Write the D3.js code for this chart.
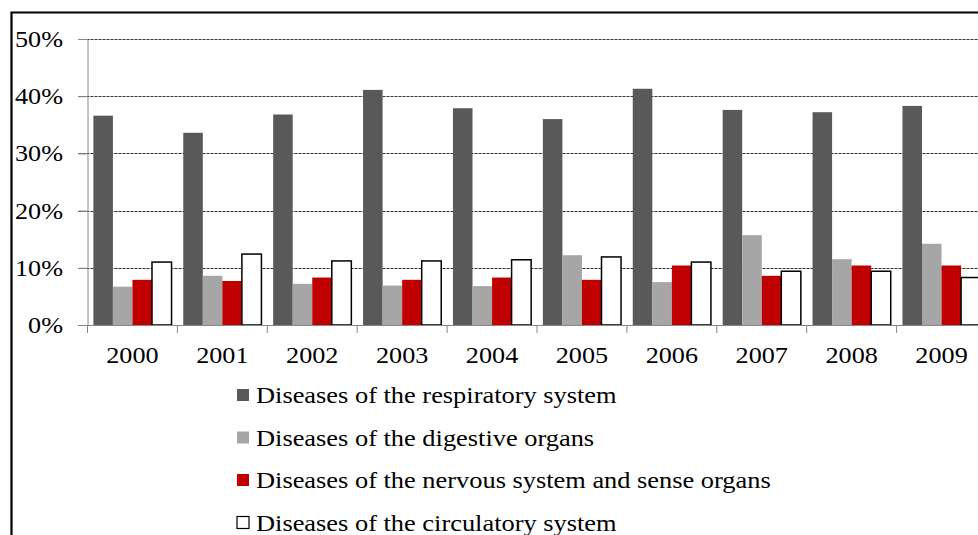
<!DOCTYPE html>
<html>
<head>
<meta charset="utf-8">
<script src="https://cdn.jsdelivr.net/npm/d3@7"></script>
<style>
  body { margin: 0; background: #fff; }
  #graph { width: 978px; height: 535px; overflow: hidden; }
  svg text { font-family: "Liberation Serif", "Times New Roman", serif; fill: #000; }
</style>
</head>
<body>
<div id="graph"></div>
<script>
// chart data
var years = ["2000","2001","2002","2003","2004","2005","2006","2007","2008","2009"];
var seriesNames = [
  "Diseases of the respiratory system",
  "Diseases of the digestive organs",
  "Diseases of the nervous system and sense organs",
  "Diseases of the circulatory system"
];
var respiratory = [36.6, 33.6, 36.8, 41.1, 37.9, 36.0, 41.3, 37.6, 37.2, 38.3];
var digestive   = [6.7, 8.6, 7.2, 6.9, 6.8, 12.2, 7.5, 15.7, 11.5, 14.2];
var nervous     = [7.9, 7.7, 8.3, 7.9, 8.3, 7.9, 10.4, 8.6, 10.4, 10.4];
var circulatory = [11.0, 12.4, 11.2, 11.2, 11.4, 11.9, 11.0, 9.4, 9.4, 8.3];
var yTicks = [0, 10, 20, 30, 40, 50];

var colors = ["#595959", "#a6a6a6", "#c00000", "#ffffff"];

drawChart(978, 535);

function drawChart(w, h) {
  var svg = d3.select("#graph").append("svg")
      .attr("width", w)
      .attr("height", h);

  var allSeries = [respiratory, digestive, nervous, circulatory];
  var sx = 1.14; // text looks stretched sideways in the original

  // outer frame (right and bottom cut off)
  svg.append("path")
      .attr("d", "M11.5,535 L11.5,12.5 L978,12.5")
      .attr("fill", "none")
      .attr("stroke", "#000")
      .attr("stroke-width", 2.2);

  var left = 87.5, step = 89.9, bottom = 325, top = 39;

  var x0 = d3.scaleBand().domain(years)
      .range([left, left + step * years.length])
      .paddingInner(0).paddingOuter(0);
  var x1 = d3.scaleBand().domain(d3.range(4))
      .range([0, x0.bandwidth()])
      .paddingInner(0).paddingOuter(0.3);
  var y = d3.scaleLinear().domain([0, 50]).range([bottom, top]);

  // gridlines
  svg.append("g").selectAll("line")
      .data(yTicks.slice(1))
    .enter().append("line")
      .attr("x1", left - 9).attr("x2", w)
      .attr("y1", function(d) { return Math.round(y(d)) + 0.5; })
      .attr("y2", function(d) { return Math.round(y(d)) + 0.5; })
      .attr("stroke", "#333")
      .attr("stroke-dasharray", "3,1");

  // y axis
  var yAxis = svg.append("g")
      .attr("transform", "translate(" + left + ",0)")
      .call(d3.axisLeft(y).tickValues(yTicks).tickSize(9).tickFormat(""));
  yAxis.select(".domain").attr("stroke", "#868686");
  yAxis.selectAll(".tick line").attr("stroke", "#868686");

  svg.append("g").selectAll("text")
      .data(yTicks)
    .enter().append("text")
      .attr("transform", function(d) { return "translate(63," + (y(d) + 8) + ") scale(" + sx + ",1)"; })
      .attr("text-anchor", "end")
      .attr("font-size", 23)
      .text(function(d) { return d + "%"; });

  // bars
  var groups = svg.append("g").selectAll("g")
      .data(years)
    .enter().append("g")
      .attr("transform", function(d) { return "translate(" + x0(d) + ",0)"; });

  groups.selectAll("rect")
      .data(function(d, i) { return allSeries.map(function(s, k) { return {k: k, v: s[i]}; }); })
    .enter().append("rect")
      .attr("x", function(d) { return x1(d.k); })
      .attr("width", x1.bandwidth())
      .attr("y", function(d) { return y(d.v); })
      .attr("height", function(d) { return bottom - y(d.v); })
      .attr("fill", function(d) { return colors[d.k]; })
      .attr("stroke", function(d) { return d.k == 3 ? "#000" : "none"; })
      .attr("stroke-width", 1.5);

  // x axis
  var xAxis = svg.append("g")
      .attr("transform", "translate(0," + bottom + ")");
  xAxis.append("line")
      .attr("x1", left - 9).attr("x2", w)
      .attr("y1", 0.5).attr("y2", 0.5)
      .attr("stroke", "#868686");
  xAxis.selectAll(".sep")
      .data(years)
    .enter().append("line")
      .attr("x1", function(d) { return x0(d); })
      .attr("x2", function(d) { return x0(d); })
      .attr("y1", 0).attr("y2", 8)
      .attr("stroke", "#868686");
  xAxis.selectAll("text")
      .data(years)
    .enter().append("text")
      .attr("transform", function(d) { return "translate(" + (x0(d) + x0.bandwidth() / 2) + ",38) scale(" + sx + ",1)"; })
      .attr("text-anchor", "middle")
      .attr("font-size", 23)
      .text(function(d) { return d; });

  // legend
  var legend = svg.append("g").selectAll("g")
      .data(seriesNames)
    .enter().append("g")
      .attr("transform", function(d, i) { return "translate(237," + (395 + i * 42.5) + ")"; });
  legend.append("rect")
      .attr("x", 0).attr("y", -6)
      .attr("width", 12).attr("height", 12)
      .attr("fill", function(d, i) { return colors[i]; })
      .attr("stroke", function(d, i) { return i == 3 ? "#000" : "none"; })
      .attr("stroke-width", 1.2);
  legend.append("text")
      .attr("transform", "translate(19,8) scale(1.1,1)")
      .attr("font-size", 24)
      .text(function(d) { return d; });
}
</script>
</body>
</html>
